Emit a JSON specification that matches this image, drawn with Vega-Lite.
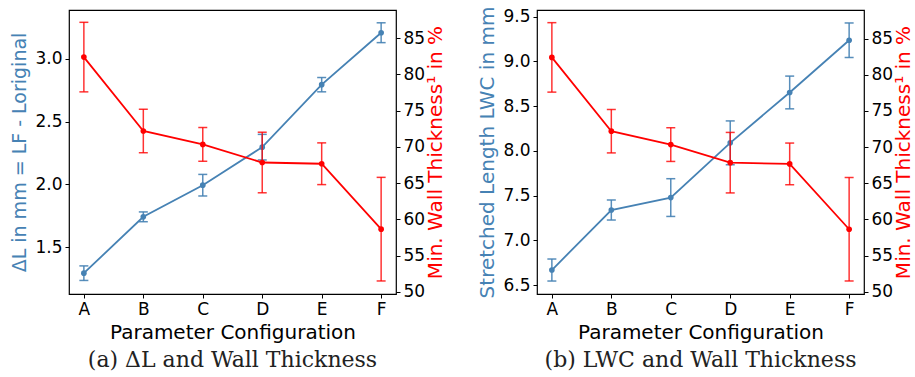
{
  "$schema": "https://vega.github.io/schema/vega-lite/v6.json",
  "background": "white",
  "padding": {"left": 10, "top": 5, "right": 0, "bottom": 2},
  "spacing": 30,
  "datasets": {
    "d": [
      {"cfg": "A", "dl": 1.293, "dl_e": 0.058, "lwc": 6.668, "lwc_e": 0.123, "wt": 82.4, "wt_e": 4.8},
      {"cfg": "B", "dl": 1.742, "dl_e": 0.039, "lwc": 7.339, "lwc_e": 0.112, "wt": 72.2, "wt_e": 3.0},
      {"cfg": "C", "dl": 1.994, "dl_e": 0.086, "lwc": 7.478, "lwc_e": 0.211, "wt": 70.35, "wt_e": 2.33},
      {"cfg": "D", "dl": 2.297, "dl_e": 0.102, "lwc": 8.09, "lwc_e": 0.245, "wt": 67.85, "wt_e": 4.18},
      {"cfg": "E", "dl": 2.795, "dl_e": 0.057, "lwc": 8.653, "lwc_e": 0.183, "wt": 67.68, "wt_e": 2.88},
      {"cfg": "F", "dl": 3.209, "dl_e": 0.079, "lwc": 9.237, "lwc_e": 0.193, "wt": 58.65, "wt_e": 7.15}
    ]
  },
  "hconcat": [
    {
      "width": 327,
      "height": 284,
      "data": {"name": "d"},
      "title": {"text": "(a) ΔL and Wall Thickness", "orient": "bottom", "anchor": "middle", "font": "DejaVu Serif", "fontSize": 22, "fontWeight": "normal", "color": "#222222", "offset": 8},
      "encoding": {
        "x": {"field": "cfg", "type": "nominal", "scale": {"type": "point", "padding": 0.25}, "axis": {"title": "Parameter Configuration", "labelAngle": 0}}
      },
      "layer": [
        {
          "encoding": {
            "y": {"field": "dl", "type": "quantitative", "scale": {"domain": [1.127, 3.39], "nice": false, "zero": false},
              "axis": {"orient": "left", "values": [1.5, 2.0, 2.5, 3.0], "format": ".1f", "title": "ΔL in mm = LF - Loriginal", "titleColor": "#4682b4", "titleFontSize": 19}}
          },
          "layer": [
            {"mark": {"type": "errorbar", "ticks": {"size": 9, "color": "#4682b4", "opacity": 0.9}, "rule": {"color": "#4682b4", "opacity": 0.9}, "thickness": 1.5},
             "encoding": {"yError": {"field": "dl_e"}}},
            {"mark": {"type": "line", "color": "#4682b4", "strokeWidth": 1.8, "point": {"filled": true, "size": 32, "color": "#4682b4", "opacity": 1}}}
          ]
        },
        {
          "encoding": {
            "y": {"field": "wt", "type": "quantitative", "scale": {"domain": [49.7, 88.9], "nice": false, "zero": false},
              "axis": {"orient": "right", "values": [50, 55, 60, 65, 70, 75, 80, 85], "title": "Min. Wall Thickness¹ in %", "titleColor": "#ff0000", "titleAngle": 270, "titleBaseline": "top", "titlePadding": 1}}
          },
          "layer": [
            {"mark": {"type": "errorbar", "ticks": {"size": 9, "color": "#ff0000", "opacity": 0.8}, "rule": {"color": "#ff0000", "opacity": 0.8}, "thickness": 1.5},
             "encoding": {"yError": {"field": "wt_e"}}},
            {"mark": {"type": "line", "color": "#ff0000", "strokeWidth": 1.8, "point": {"filled": true, "size": 32, "color": "#ff0000", "opacity": 1}}}
          ]
        }
      ],
      "resolve": {"scale": {"y": "independent"}}
    },
    {
      "width": 327,
      "height": 284,
      "data": {"name": "d"},
      "title": {"text": "(b) LWC and Wall Thickness", "orient": "bottom", "anchor": "middle", "font": "DejaVu Serif", "fontSize": 22, "fontWeight": "normal", "color": "#222222", "offset": 8},
      "encoding": {
        "x": {"field": "cfg", "type": "nominal", "scale": {"type": "point", "padding": 0.25}, "axis": {"title": "Parameter Configuration", "labelAngle": 0}}
      },
      "layer": [
        {
          "encoding": {
            "y": {"field": "lwc", "type": "quantitative", "scale": {"domain": [6.4, 9.575], "nice": false, "zero": false},
              "axis": {"orient": "left", "values": [6.5, 7.0, 7.5, 8.0, 8.5, 9.0, 9.5], "format": ".1f", "title": "Stretched Length LWC in mm", "titleColor": "#4682b4"}}
          },
          "layer": [
            {"mark": {"type": "errorbar", "ticks": {"size": 9, "color": "#4682b4", "opacity": 0.9}, "rule": {"color": "#4682b4", "opacity": 0.9}, "thickness": 1.5},
             "encoding": {"yError": {"field": "lwc_e"}}},
            {"mark": {"type": "line", "color": "#4682b4", "strokeWidth": 1.8, "point": {"filled": true, "size": 32, "color": "#4682b4", "opacity": 1}}}
          ]
        },
        {
          "encoding": {
            "y": {"field": "wt", "type": "quantitative", "scale": {"domain": [49.7, 88.95], "nice": false, "zero": false},
              "axis": {"orient": "right", "values": [50, 55, 60, 65, 70, 75, 80, 85], "title": "Min. Wall Thickness¹ in %", "titleColor": "#ff0000", "titleAngle": 270, "titleBaseline": "top", "titlePadding": 1}}
          },
          "layer": [
            {"mark": {"type": "errorbar", "ticks": {"size": 9, "color": "#ff0000", "opacity": 0.8}, "rule": {"color": "#ff0000", "opacity": 0.8}, "thickness": 1.5},
             "encoding": {"yError": {"field": "wt_e"}}},
            {"mark": {"type": "line", "color": "#ff0000", "strokeWidth": 1.8, "point": {"filled": true, "size": 32, "color": "#ff0000", "opacity": 1}}}
          ]
        }
      ],
      "resolve": {"scale": {"y": "independent"}}
    }
  ],
  "config": {
    "font": "DejaVu Sans",
    "view": {"stroke": "black", "strokeWidth": 1.2},
    "axis": {
      "domain": false,
      "grid": false,
      "tickColor": "black",
      "tickSize": 4,
      "tickWidth": 1,
      "labelFont": "DejaVu Sans",
      "labelFontSize": 17,
      "labelColor": "black",
      "labelPadding": 3,
      "titleFont": "DejaVu Sans",
      "titleFontSize": 20,
      "titleFontWeight": "normal",
      "titleColor": "black",
      "titlePadding": 5
    }
  }
}
